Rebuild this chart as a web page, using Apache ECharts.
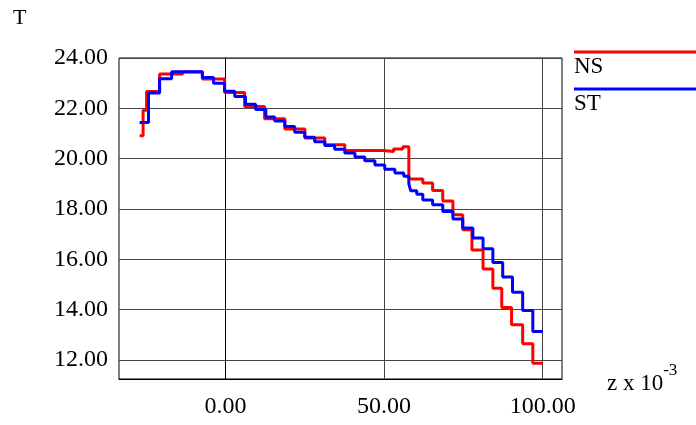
<!DOCTYPE html>
<html>
<head>
<meta charset="utf-8">
<script src="https://cdn.jsdelivr.net/npm/echarts@6/dist/echarts.min.js"></script>
<style>
  html, body { margin: 0; padding: 0; background: #fff; }
  #chart { width: 696px; height: 425px; }
</style>
</head>
<body>
<div id="chart"></div>
<script>
// NS curve (step starts, z x 10^-3 / T)
var nsZ = [-27.1, -26.0, -24.9, -20.8, -13.5, -7.3, -0.3, 6.0, 12.3, 18.7, 25.0, 31.3, 37.6,
    49.6, 53.0, 55.9, 57.8, 62.2, 65.3, 68.5, 71.7, 74.8, 77.7, 81.2, 84.3, 87.1, 90.2, 93.7, 96.9, 100.0];
var nsT = [20.91, 21.92, 22.67, 23.36, 23.44, 23.17, 22.63, 22.07, 21.59, 21.18, 20.82, 20.55, 20.32,
    20.28, 20.38, 20.47, 19.19, 19.03, 18.73, 18.32, 17.77, 17.17, 16.37, 15.61, 14.85, 14.08, 13.40, 12.64, 11.87, 11.87];

// ST curve
var stZ = [-27.1, -24.3, -20.8, -17.0, -7.3, -3.8, -0.3, 2.9, 6.3, 9.5, 12.7, 15.5, 18.7, 21.8, 25.0,
    28.1, 31.3, 34.4, 37.6, 40.8, 43.9, 47.1, 50.2, 53.4, 56.2, 57.8, 58.4, 60.3, 62.2, 65.3, 68.5,
    71.7, 74.8, 78.0, 81.2, 84.3, 87.4, 90.5, 93.7, 96.9, 100.0];
var stT = [21.44, 22.61, 23.18, 23.45, 23.22, 23.00, 22.68, 22.47, 22.16, 21.95, 21.65, 21.50, 21.28, 21.05, 20.85,
    20.67, 20.52, 20.37, 20.22, 20.06, 19.92, 19.75, 19.58, 19.43, 19.30, 19.00, 18.72, 18.58, 18.36, 18.17, 17.90,
    17.60, 17.24, 16.84, 16.42, 15.87, 15.29, 14.69, 13.96, 13.13, 13.13];

var yTicks = [12, 14, 16, 18, 20, 22, 24];
var xTicks = [0, 50, 100];

function pairs(xs, ys) {
    var out = [];
    for (var i = 0; i < xs.length; i++) {
        out.push([xs[i], ys[i]]);
    }
    return out;
}

var font = 'Liberation Serif';
var chart = echarts.init(document.getElementById('chart'));
var option = {
    animation: false,
    backgroundColor: '#fff',
    grid: {
        left: 119, right: 134, top: 58, bottom: 46,
        show: true, borderColor: '#000', borderWidth: 1
    },
    xAxis: {
        type: 'value',
        min: -33.6,
        max: 106.1,
        axisLine: {show: true, lineStyle: {color: '#000', width: 1}},
        axisTick: {show: false, customValues: xTicks},
        axisLabel: {
            customValues: xTicks,
            margin: 16,
            fontFamily: font, fontSize: 24, color: '#000',
            formatter: function (v) { return v.toFixed(2); }
        },
        splitLine: {show: true, lineStyle: {color: '#444', width: 1}}
    },
    yAxis: {
        type: 'value',
        min: 11.24,
        max: 24,
        axisLine: {show: true, lineStyle: {color: '#000', width: 1}},
        axisTick: {show: false, customValues: yTicks},
        axisLabel: {
            customValues: yTicks,
            margin: 11,
            fontFamily: font, fontSize: 24, color: '#000',
            formatter: function (v) { return v.toFixed(2); }
        },
        splitLine: {show: true, lineStyle: {color: '#444', width: 1}}
    },
    series: [
        {
            name: 'NS', type: 'line', step: 'end', showSymbol: false,
            lineStyle: {color: '#ff0000', width: 3},
            data: pairs(nsZ, nsT)
        },
        {
            name: 'ST', type: 'line', step: 'end', showSymbol: false,
            lineStyle: {color: '#0000ff', width: 3},
            data: pairs(stZ, stT)
        }
    ],
    graphic: [
        {type: 'text', left: 13, top: 7, style: {text: 'T', font: '22px ' + font, fill: '#000'}},
        {
            type: 'text', left: 607, top: 362,
            style: {
                text: '{b|z x 10}{s|-3}',
                rich: {
                    b: {fontFamily: font, fontSize: 23, color: '#000', padding: [10, 0, 0, 0]},
                    s: {fontFamily: font, fontSize: 17, color: '#000', verticalAlign: 'top'}
                }
            }
        },
        {type: 'line', shape: {x1: 574, y1: 52, x2: 696, y2: 52}, style: {stroke: '#ff0000', lineWidth: 3}},
        {type: 'text', left: 574, top: 55, style: {text: 'NS', font: '23px ' + font, fill: '#000'}},
        {type: 'line', shape: {x1: 574, y1: 89, x2: 696, y2: 89}, style: {stroke: '#0000ff', lineWidth: 3}},
        {type: 'text', left: 574, top: 92, style: {text: 'ST', font: '23px ' + font, fill: '#000'}}
    ]
};
chart.setOption(option);
</script>
</body>
</html>
